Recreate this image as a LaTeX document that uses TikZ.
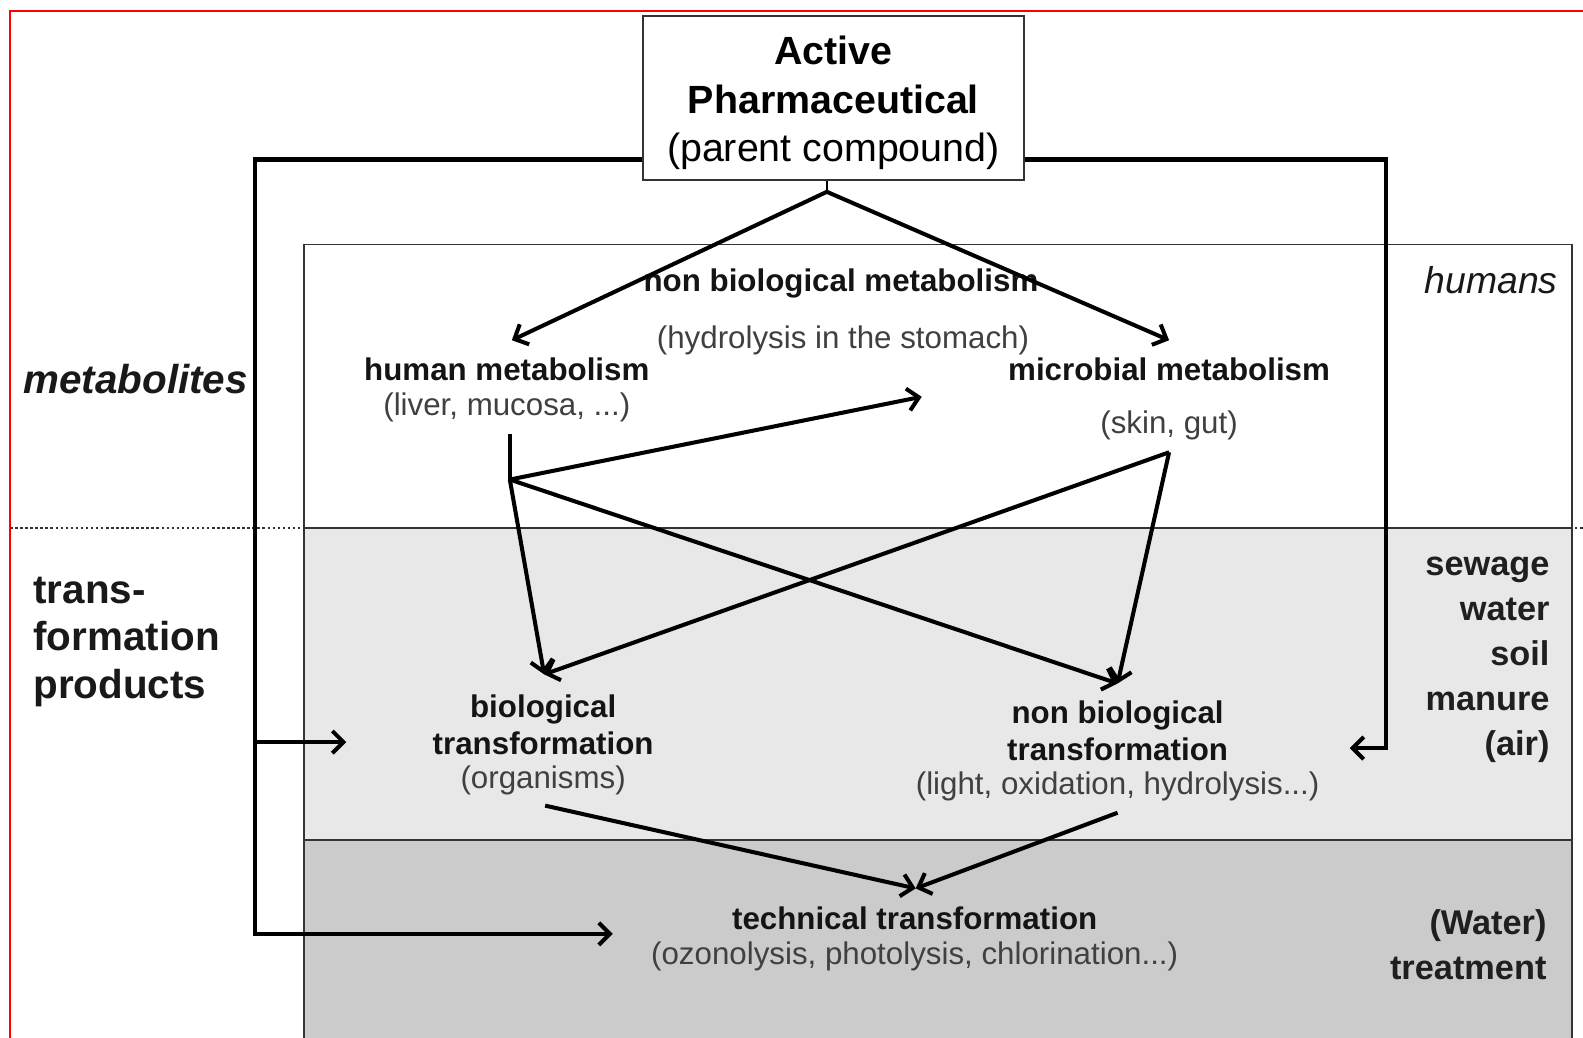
\documentclass[tikz,border=0pt]{standalone}
\usepackage{fontspec}
\setmainfont{Liberation Sans}
\usepackage{tikz}
\usetikzlibrary{arrows.meta,positioning,calc}

\definecolor{lightzone}{RGB}{232,232,232}
\definecolor{darkzone}{RGB}{203,203,203}
\definecolor{subgray}{RGB}{64,64,64}

\begin{document}
\begin{tikzpicture}[
  x=1pt, y=-1pt,
  arr/.style={-{Straight Barb[length=11pt,width=22pt]}, line width=4pt},
  wire/.style={line width=4pt},
  zone/.style={draw=black!80, line width=1.6pt},
  lab/.style={font=\fontsize{31}{37}\selectfont\bfseries, text=black!92, inner sep=0pt, align=center},
  sub/.style={font=\fontsize{31}{37}\selectfont, text=subgray, inner sep=0pt, align=center},
  side/.style={font=\fontsize{34}{44.5}\selectfont\bfseries, text=black!88, inner sep=0pt, align=right},
  big/.style={font=\fontsize{40}{47.5}\selectfont\bfseries, text=black!90, inner sep=0pt, align=left}
]
\useasboundingbox (0,0) rectangle (1568,1028);

% ===== ZONES =====
\fill[white] (0,0) rectangle (1568,1028);
\draw[zone, fill=darkzone] (301,832) rectangle (1557,1040);
\draw[zone, fill=lightzone] (301,523) rectangle (1557,832);
\draw[zone] (301,242) rectangle (1557,523);
\draw[black!80, line width=2.8pt, dash pattern=on 2.5pt off 2.5pt] (10,523) -- (1568,523);
\draw[red, line width=2pt] (10,1040) -- (10,11) -- (1568,11);

% ===== PARENT COMPOUND =====
\node[draw=black!80, line width=2pt, minimum width=377pt, minimum height=162pt, inner sep=0pt] (apc) at (825.5,97) {};
\node[font=\fontsize{39}{48}\selectfont, align=center, inner sep=0pt] (apc_txt) at ($(apc.center)+(0,5)$)
  {\textbf{Active}\\\textbf{Pharmaceutical}\\(parent compound)};

% ===== HUMANS =====
\node[lab] (nbm) at (833,281) {non biological metabolism};
\node[sub] (nbm_x) at (835,337) {(hydrolysis in the stomach)};
\node[lab] (hm) at (502,366) {human metabolism};
\node[sub] (hm_x) at (502,404) {(liver, mucosa, ...)};
\node[lab] (mm) at (1158,366) {microbial metabolism};
\node[sub] (mm_x) at (1158,421) {(skin, gut)};

% ===== ENVIRONMENT =====
\node[lab] (bt) at (538,718) {biological\\transformation};
\node[sub] (bt_x) at (538,773) {(organisms)};
\node[lab] (nbt) at (1107,724) {non biological\\transformation};
\node[sub] (nbt_x) at (1107,779) {(light, oxidation, hydrolysis...)};

% ===== TREATMENT =====
\node[lab] (tt) at (906,910) {technical transformation};
\node[sub] (tt_x) at (906,947) {(ozonolysis, photolysis, chlorination...)};

% ===== SIDE LABELS =====
\node[big, anchor=west, font=\fontsize{40}{47.5}\selectfont\bfseries\itshape] (metab) at (23,375) {metabolites};
\node[big, anchor=north west] (tp) at (33,571) {trans-\\formation\\products};
\node[anchor=east, inner sep=0pt, font=\fontsize{37}{44}\selectfont\itshape, text=black!90] (hum) at (1543,277) {humans};
\node[side, anchor=north east] (env) at (1535,552) {sewage\\water\\soil\\manure\\(air)};
\node[side, anchor=north east] (wt) at (1532,901) {(Water)\\treatment};

% ===== END POINTS =====
\coordinate (split) at (819,190);
\coordinate (hm_in) at (507,337);
\coordinate (mm_in) at (1158,337);
\coordinate (hm_out) at (505,430);
\coordinate (hm_j) at (505,475);
\coordinate (mm_j) at (1158,448);
\coordinate (mm_side) at (913,393);
\coordinate (bt_in) at (539,668);
\coordinate (nbt_in) at (1107,677);
\coordinate (bt_out) at (540,798);
\coordinate (nbt_out) at (1107,805);
\coordinate (tt_in) at (907,880);
\coordinate (left_top) at (253,158);
\coordinate (left_bot) at (253,925);
\coordinate (left_mid) at (253,735);
\coordinate (right_top) at (1373,158);
\coordinate (right_bot) at (1373,741);
\coordinate (bt_side) at (343,735);
\coordinate (nbt_side) at (1337,741);
\coordinate (tt_side) at (607,925);

% ===== CONNECTORS =====
\draw[line width=2.5pt] (apc.south -| split) -- (split);
\draw[arr] (split) -- (hm_in);
\draw[arr] (split) -- (mm_in);
\draw[wire] (hm_out) -- (hm_j);
\draw[arr] (hm_j) -- (mm_side);
\draw[arr] (hm_j) -- (bt_in);
\draw[arr] (hm_j) -- (nbt_in);
\draw[arr] (mm_j) -- (bt_in);
\draw[arr] (mm_j) -- (nbt_in);
\draw[arr] (bt_out) -- (tt_in);
\draw[arr] (nbt_out) -- (tt_in);

\draw[arr] (apc.west |- left_top) -- (left_top) -- (left_bot) -- (tt_side);
\draw[arr] (left_mid) -- (bt_side);
\draw[arr] (apc.east |- right_top) -- (right_top) -- (right_bot) -- (nbt_side);

\end{tikzpicture}
\end{document}
